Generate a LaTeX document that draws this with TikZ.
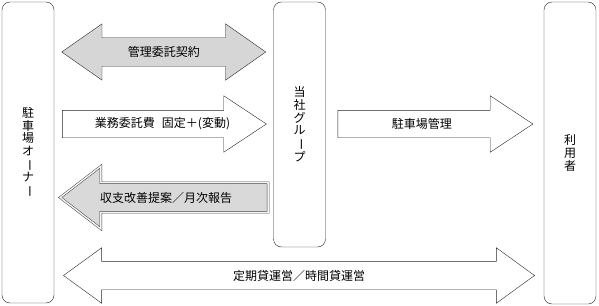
\documentclass[tikz,border=0pt]{standalone}
\usepackage{fontspec}
\usepackage{graphicx}
\newfontfamily\jpfont{Noto Sans CJK JP}
\usetikzlibrary{shapes.arrows, calc}
\newcommand{\vbar}{\rotatebox[origin=c]{-90}{ー}}
\tikzstyle{party} = [rectangle, rounded corners=8pt,
minimum width=52pt,
draw=black!85,
fill=white,
align=center,
font=\jpfont\fontsize{12}{12.6}\selectfont]
\tikzstyle{flowone} = [single arrow,
draw=black!85,
fill=white,
single arrow head extend=14.5pt,
single arrow tip angle=67,
text height=9pt, text depth=3pt,
inner ysep=7.5pt, inner xsep=0pt]
\tikzstyle{flowtwo} = [double arrow,
draw=black!85,
fill=white,
double arrow head extend=14pt,
double arrow tip angle=70,
text height=9pt, text depth=3pt,
inner ysep=8pt, inner xsep=0pt]
\tikzstyle{flowtext} = [inner sep=0pt,
font=\jpfont\fontsize{12}{14}\selectfont]
\begin{document}
\begin{tikzpicture}[x=1pt, y=-1pt]
\useasboundingbox (0,0) rectangle (599,305);

\node (owner) [party, minimum height=301pt] at (28,152.5)
      {駐\\車\\場\\オ\\\vbar\\ナ\\\vbar};
\node (group) [party, minimum height=245pt] at (299.5,124.5)
      {当\\社\\グ\\ル\\\vbar\\プ};
\node (user) [party, minimum height=302pt] at (570,153)
      {利\\用\\者};

% owner <-> group
\node (contract) [flowtwo, fill=black!16, minimum height=204pt]
      at ($(owner.east |- 0,52)!.5!(group.west |- 0,52)$) {};
\node (fee) [flowone, anchor=tail, minimum height=204pt]
      at ($(owner.east |- 0,124)+(8,0)$) {};
\node (report) [flowone, shape border rotate=180, anchor=tip,
      fill=black!15, draw=black!75, line width=0.5pt,
      double=black!4, double distance=1.4pt,
      single arrow head extend=16.5pt, single arrow tip angle=75,
      inner ysep=8.5pt, minimum height=208pt]
      at ($(owner.east |- 0,197.5)+(5.5,0)$) {};

% group -> user
\node (manage) [flowone, anchor=tail, minimum height=195pt]
      at ($(group.east |- 0,124)+(12,0)$) {};

% owner <-> user
\node (operate) [flowtwo, double arrow head extend=13.5pt,
      double arrow tip angle=72, minimum height=471pt]
      at ($(owner.east |- 0,275.5)!.5!(user.west |- 0,275.5)$) {};

% labels
\node (contract_t) [flowtext] at (contract.center) {管理委託契約};
\node (fee_t) [flowtext] at ($(fee.tail)!.49!(fee.tip)$)
      {業務委託費\hspace{0.6em}固定＋(変動)};
\node (report_t) [flowtext] at ($(report.tail)!.49!(report.tip)$)
      {収支改善提案／月次報告};
\node (manage_t) [flowtext] at ($(manage.tail)!.43!(manage.tip)$)
      {駐車場管理};
\node (operate_t) [flowtext] at (operate.center) {定期貸運営／時間貸運営};

\end{tikzpicture}
\end{document}
